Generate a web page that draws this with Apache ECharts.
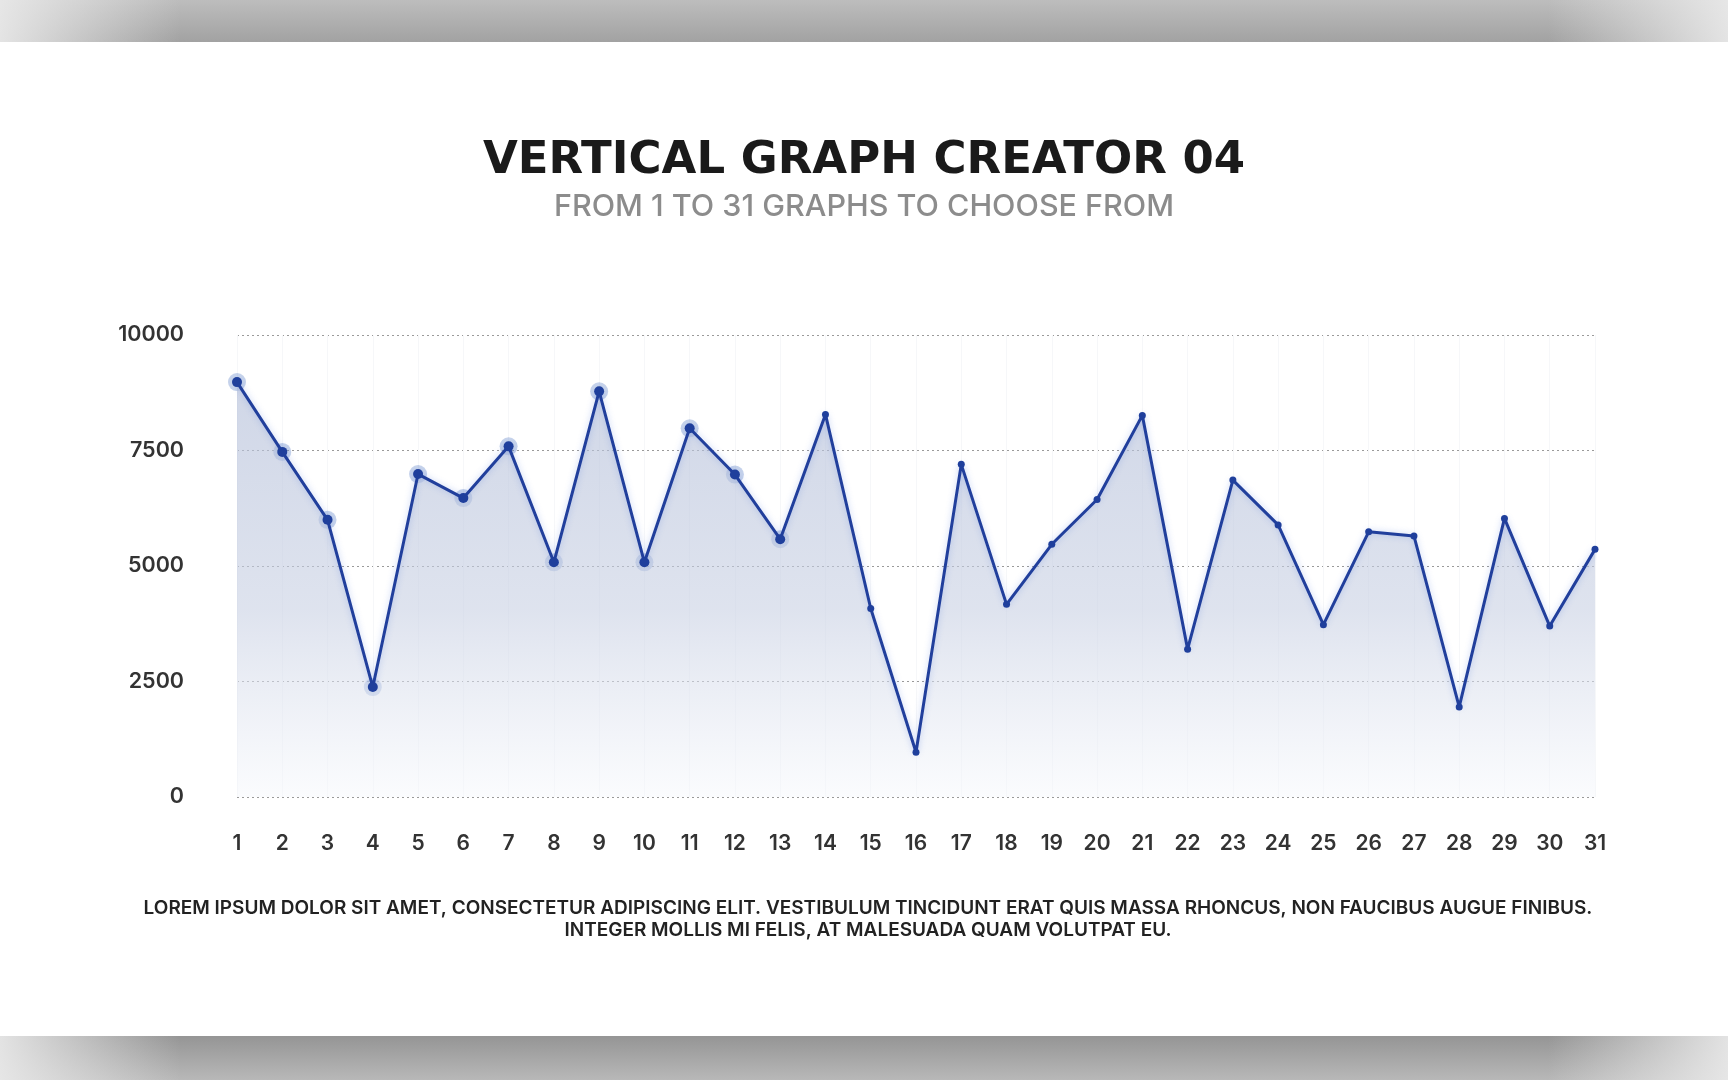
<!DOCTYPE html>
<html>
<head>
<meta charset="utf-8">
<script src="https://cdn.jsdelivr.net/npm/echarts@6/dist/echarts.min.js"></script>
<style>
html,body{margin:0;padding:0;background:#fff;}
#c{width:1728px;height:1080px;}
</style>
</head>
<body>
<div id="c"></div>
<script>
const categories = ['1','2','3','4','5','6','7','8','9','10','11','12','13','14','15','16','17','18','19','20','21','22','23','24','25','26','27','28','29','30','31'];
const values = [8980,7470,6000,2380,6990,6470,7590,5080,8780,5080,7980,6980,5580,8280,4080,970,7200,4170,5470,6440,8260,3200,6860,5890,3730,5740,5650,1950,6030,3700,5360];
const yTicks = [0,2500,5000,7500,10000];
const titleText = 'VERTICAL GRAPH CREATOR 04';
const subtitleText = 'FROM 1 TO 31 GRAPHS TO CHOOSE FROM';
const footerText = 'LOREM IPSUM DOLOR SIT AMET, CONSECTETUR ADIPISCING ELIT. VESTIBULUM TINCIDUNT ERAT QUIS MASSA RHONCUS, NON FAUCIBUS AUGUE FINIBUS.\nINTEGER MOLLIS MI FELIS, AT MALESUADA QUAM VOLUTPAT EU.';

const chart = echarts.init(document.getElementById('c'));
const FONT = 'Inter, "Noto Sans", sans-serif';
chart.setOption({
  backgroundColor: '#ffffff',
  animation: false,
  graphic: [
    {type:'rect', shape:{x:0,y:0,width:1728,height:42}, z:-1,
     style:{fill:new echarts.graphic.LinearGradient(0,0,0,1,[{offset:0,color:'#bdbdbd'},{offset:1,color:'#a2a2a2'}])}},
    {type:'rect', shape:{x:0,y:1036,width:1728,height:44}, z:-1,
     style:{fill:new echarts.graphic.LinearGradient(0,0,0,1,[{offset:0,color:'#959595'},{offset:1,color:'#b8b8b8'}])}},
    {type:'rect', shape:{x:0,y:0,width:180,height:42}, z:0,
     style:{fill:new echarts.graphic.LinearGradient(0,0,1,0,[{offset:0,color:'rgba(235,235,235,0.9)'},{offset:1,color:'rgba(235,235,235,0)'}])}},
    {type:'rect', shape:{x:1548,y:0,width:180,height:42}, z:0,
     style:{fill:new echarts.graphic.LinearGradient(0,0,1,0,[{offset:0,color:'rgba(235,235,235,0)'},{offset:1,color:'rgba(235,235,235,0.9)'}])}},
    {type:'rect', shape:{x:0,y:1036,width:180,height:44}, z:0,
     style:{fill:new echarts.graphic.LinearGradient(0,0,1,0,[{offset:0,color:'rgba(235,235,235,0.9)'},{offset:1,color:'rgba(235,235,235,0)'}])}},
    {type:'rect', shape:{x:1548,y:1036,width:180,height:44}, z:0,
     style:{fill:new echarts.graphic.LinearGradient(0,0,1,0,[{offset:0,color:'rgba(235,235,235,0)'},{offset:1,color:'rgba(235,235,235,0.9)'}])}},
    {type:'text', x:868, y:919, z:5,
     style:{text: footerText, align:'center', verticalAlign:'middle', font:'600 19px Inter, "Noto Sans", sans-serif', fill:'#222', lineHeight:22}}
  ],
  title: [
    {text: titleText, left: 'center', top: 134,
     textStyle:{fontFamily:'"DejaVu Sans", Inter, sans-serif', fontWeight:'bold', fontSize:45, color:'#1a1a1a'}},
    {text: subtitleText, left: 'center', top: 186,
     textStyle:{fontFamily:FONT, fontWeight:500, fontSize:30.5, color:'#8c8c8c'}}
  ],
  grid: {left: 237, right: 133, top: 335, bottom: 283},
  xAxis: {
    type: 'category', data: categories, boundaryGap: false,
    axisLine:{show:false}, axisTick:{show:false},
    axisLabel:{margin:36, fontFamily:FONT, fontWeight:600, fontSize:21, color:'#333'},
    splitLine:{show:true, lineStyle:{color:'#f6f7f9', width:1}}
  },
  yAxis: {
    type: 'value', min: 0, max: 10000, interval: 2500,
    axisLine:{show:false}, axisTick:{show:false},
    axisLabel:{margin:53, fontFamily:FONT, fontWeight:600, fontSize:21.5, color:'#333', padding:[0,0,14,0],
      customValues: yTicks, formatter: v => String(v)},
    splitLine:{lineStyle:{color:'#9a9a9a', type:[2,3], width:1}}
  },
  series: [{
    type: 'line', data: values,
    symbol: 'circle',
    symbolSize: (v, p) => p.dataIndex < 13 ? 10 : 7,
    itemStyle: {color:'#1f3f9c'},
    lineStyle: {color:'#213f9c', width:3, shadowBlur:6, shadowColor:'rgba(80,120,220,0.35)'},
    areaStyle: {color: new echarts.graphic.LinearGradient(0,0,0,1,[
      {offset:0,color:'rgba(180,191,217,0.9)'},
      {offset:0.55,color:'rgba(200,208,227,0.85)'},
      {offset:1,color:'rgba(246,248,252,0.7)'}])},
    z: 3
  },{
    type: 'scatter', data: values.map((v,i)=> i < 13 ? v : null),
    symbol: 'circle', symbolSize: 18,
    itemStyle: {color:'rgba(95,130,200,0.45)'},
    z: 2, silent: true
  }]
});
</script>
</body>
</html>
